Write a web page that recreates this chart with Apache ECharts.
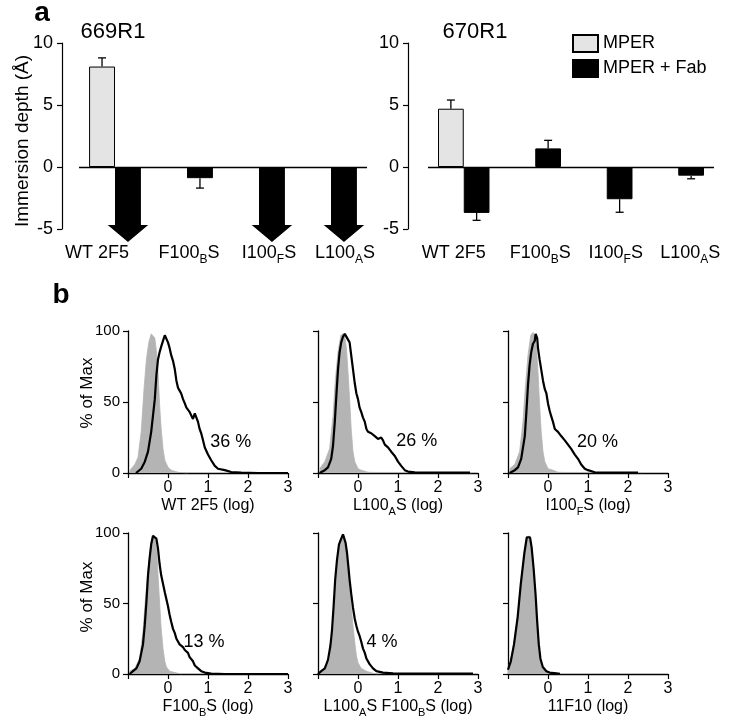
<!DOCTYPE html>
<html>
<head>
<meta charset="utf-8">
<script src="https://cdn.jsdelivr.net/npm/echarts@6/dist/echarts.min.js"></script>
<style>
html,body{margin:0;padding:0;background:#fff;}
#chart{width:729px;height:728px;}
</style>
</head>
<body>
<div id="chart"></div>
<script>
// ---------------- DATA ----------------
// Part a: immersion depth (Å)
const catLabels = ['WT 2F5', 'F100{s|B}S', 'I100{s|F}S', 'L100{s|A}S'];
const depthTicks = [-5, 0, 5, 10];
const mper669 = [8.1, null, null, null];
const mper669Err = [0.7, null, null, null];
const fab669 = [null, -0.9, null, null];
const fab669Err = [null, 0.8, null, null];
const fab669OffScale = [true, false, true, true];
const mper670 = [4.7, null, null, null];
const mper670Err = [0.7, null, null, null];
const fab670 = [-3.7, 1.5, -2.6, -0.7];
const fab670Err = [0.6, 0.65, 1.05, 0.25];
const fab670OffScale = [false, false, false, false];

// Part b: flow cytometry histograms ([log fluorescence, % of Max])
const panelNames = ['WT 2F5 (log)', 'L100{s|A}S (log)', 'I100{s|F}S (log)',
                    'F100{s|B}S (log)', 'L100{s|A}S F100{s|B}S (log)', '11F10 (log)'];
const pctLabels = ['36 %', '26 %', '20 %', '13 %', '4 %', ''];

const wtGrey = [[-0.96,1],[-0.92,3],[-0.83,6],[-0.75,11],[-0.67,29],[-0.6,59],[-0.54,80],[-0.48,92],[-0.42,98],[-0.375,99],[-0.33,95],[-0.29,86],[-0.25,71],[-0.21,48],[-0.17,31],[-0.125,17],[-0.08,9],[0,4],[0.08,2],[0.25,0.5],[0.5,0]];
const wtBlack = [[-0.8,0],[-0.67,3],[-0.58,8],[-0.5,15],[-0.42,29],[-0.33,52],[-0.29,69],[-0.25,80],[-0.21,85],[-0.17,89],[-0.125,93],[-0.08,97],[-0.04,96],[0,92],[0.04,88],[0.08,83],[0.125,79],[0.17,73],[0.21,65],[0.25,60],[0.29,58],[0.33,56],[0.375,52],[0.42,49],[0.46,46],[0.5,45],[0.54,43],[0.58,42],[0.625,38],[0.67,42],[0.71,42],[0.75,36],[0.79,31],[0.83,28],[0.875,23],[0.92,18],[1.0,13],[1.08,9],[1.17,5],[1.25,3],[1.42,2],[1.58,0.7],[1.83,0.2],[2.25,0],[3,0]];

const l100Grey = [[-0.96,3],[-0.83,8],[-0.71,17],[-0.625,40],[-0.57,64],[-0.5,85],[-0.43,97],[-0.375,98],[-0.33,96],[-0.29,88],[-0.25,71],[-0.21,52],[-0.17,31],[-0.125,15],[-0.08,8],[0,3],[0.08,2],[0.25,0.5],[0.5,0.4],[2.8,0.4],[2.85,0]];
const l100Black = [[-0.96,0],[-0.83,2],[-0.75,4],[-0.67,10],[-0.625,19],[-0.58,36],[-0.54,55],[-0.5,73],[-0.46,85],[-0.42,92],[-0.375,96],[-0.33,98],[-0.29,98],[-0.27,95],[-0.23,96],[-0.21,92],[-0.17,83],[-0.125,73],[-0.08,63],[-0.04,56],[0,52],[0.04,46],[0.08,43],[0.125,39],[0.17,36],[0.21,31],[0.25,29],[0.29,28],[0.33,28],[0.375,27],[0.42,26],[0.46,25],[0.5,24],[0.58,25],[0.625,23],[0.67,20],[0.75,18],[0.83,15],[0.92,12],[1.0,8],[1.08,5],[1.17,2],[1.25,1],[1.42,0.5],[1.83,0.3],[2.8,0.3]];

const i100Grey = [[-0.96,3],[-0.83,6],[-0.71,15],[-0.625,36],[-0.57,59],[-0.5,83],[-0.43,97],[-0.375,99],[-0.33,97],[-0.29,89],[-0.25,71],[-0.21,48],[-0.17,29],[-0.125,15],[-0.08,8],[0,3],[0.125,2],[0.25,0.5],[0.5,0.4],[2.3,0.4],[2.35,0]];
const i100Black = [[-0.96,0],[-0.83,2],[-0.75,4],[-0.67,10],[-0.58,26],[-0.54,43],[-0.5,62],[-0.46,76],[-0.42,85],[-0.375,91],[-0.33,93],[-0.31,98],[-0.29,99],[-0.27,95],[-0.25,88],[-0.21,80],[-0.17,73],[-0.125,65],[-0.08,59],[-0.04,56],[0,49],[0.04,44],[0.08,40],[0.125,36],[0.17,31],[0.21,30],[0.25,29],[0.33,26],[0.42,23],[0.5,20],[0.58,17],[0.67,13],[0.75,10],[0.83,6],[0.92,3],[1.0,2],[1.17,0.5],[1.42,0.3],[2.25,0.3]];

const f100Grey = [[-0.96,2],[-0.83,4],[-0.71,11],[-0.625,30],[-0.57,51],[-0.5,73],[-0.43,92],[-0.375,98],[-0.32,96],[-0.28,87],[-0.25,70],[-0.21,51],[-0.17,32],[-0.125,18],[-0.08,9],[-0.04,5],[0.04,2],[0.17,1],[0.33,0]];
const f100Black = [[-0.96,0],[-0.875,2],[-0.79,4],[-0.71,9],[-0.625,21],[-0.58,35],[-0.54,51],[-0.5,70],[-0.46,82],[-0.42,92],[-0.375,98],[-0.33,98],[-0.29,96],[-0.25,89],[-0.21,78],[-0.17,70],[-0.125,64],[-0.08,58],[-0.04,53],[0,48],[0.04,42],[0.08,37],[0.125,32],[0.17,29],[0.21,25],[0.25,23],[0.29,21],[0.33,20],[0.375,19],[0.42,17],[0.46,16],[0.5,15],[0.54,12],[0.58,11],[0.625,9],[0.67,6],[0.75,4],[0.83,2],[0.92,1],[1.08,0.3],[1.42,0],[3,0]];

const dblGrey = [[-0.96,1],[-0.83,3],[-0.71,10],[-0.625,31],[-0.57,57],[-0.5,81],[-0.44,94],[-0.39,99],[-0.35,96],[-0.31,91],[-0.25,76],[-0.21,62],[-0.17,48],[-0.125,34],[-0.08,22],[-0.04,13],[0,8],[0.08,4],[0.21,2],[0.375,0.5],[0.5,0]];
const dblBlack = [[-1.0,0],[-0.92,2],[-0.83,4],[-0.75,10],[-0.69,20],[-0.65,31],[-0.61,48],[-0.57,67],[-0.525,81],[-0.475,92],[-0.42,96],[-0.375,99],[-0.34,98],[-0.31,93],[-0.275,86],[-0.24,76],[-0.21,67],[-0.17,57],[-0.125,47],[-0.08,39],[-0.04,34],[0,30],[0.04,27],[0.08,23],[0.125,18],[0.17,15],[0.21,11],[0.29,7],[0.375,4],[0.46,2],[0.625,1],[0.875,0.5],[1.46,0.3],[2.875,0.3]];

const ctrlGrey = [[-1.0,4],[-0.93,10],[-0.85,22],[-0.76,41],[-0.68,65],[-0.59,86],[-0.53,96],[-0.48,98],[-0.44,96],[-0.40,88],[-0.36,74],[-0.31,55],[-0.27,36],[-0.23,20],[-0.19,10],[-0.13,5],[-0.04,2],[0.04,1],[0.21,0.5],[0.3,0]];
const ctrlBlack = [[-1.0,3],[-0.93,9],[-0.85,21],[-0.76,40],[-0.68,64],[-0.59,86],[-0.53,97],[-0.49,98],[-0.45,97],[-0.41,90],[-0.36,75],[-0.31,56],[-0.27,37],[-0.23,21],[-0.19,11],[-0.13,5],[-0.04,2],[0.04,1],[0.21,0.5],[0.3,0.2]];

const logTicks = [0, 1, 2, 3];
const pctTicks = [0, 50, 100];

// ---------------- LAYOUT / STYLE ----------------
const FONT = '"Liberation Sans", Arial, Helvetica, sans-serif';
const BAR_FRAC = 0.36;
const DEPTH_MIN = -5, DEPTH_MAX = 10;
const GREY_BAR = '#e4e4e4';
const GREY_HIST = '#b4b4b4';
// horizontal shift (px) of each category label relative to its category centre, per chart
const catLabelShift = [[-18, 2, 10, 14], [-10, 5, 9, 12]];

const greyCurves = [wtGrey, l100Grey, i100Grey, f100Grey, dblGrey, ctrlGrey];
const blackCurves = [wtBlack, l100Black, i100Black, f100Black, dblBlack, ctrlBlack];
const pctLabelAt = [[1.57, 21.7], [1.47, 22.4], [1.24, 22], [0.9, 22.7], [0.6, 22.6], null];

const grids = [
  {left: 79, top: 43, width: 288, height: 186},
  {left: 428, top: 43, width: 286, height: 186},
  {left: 128, top: 331, width: 160, height: 142},
  {left: 318, top: 331, width: 160, height: 142},
  {left: 508, top: 331, width: 160, height: 142},
  {left: 128, top: 533, width: 160, height: 141},
  {left: 318, top: 533, width: 160, height: 141},
  {left: 508, top: 533, width: 160, height: 141}
].map(g => Object.assign({outerBoundsMode: 'none', containLabel: false}, g));

const subRich = (fs) => ({ s: {fontSize: fs, lineHeight: fs, verticalAlign: 'bottom', fontFamily: FONT, color: '#000'} });

const xAxes = [];
const yAxes = [];
const series = [];

// Part a axes
[0, 1].forEach(k => {
  xAxes.push({
    type: 'category', gridIndex: k, position: 'bottom',
    data: catLabels.map((c, i) => {
      const d = catLabelShift[k][i];
      return {value: c, textStyle: {padding: d >= 0 ? [0, 0, 0, 2 * d] : [0, -2 * d, 0, 0]}};
    }),
    axisLine: {show: false, onZero: false},
    axisTick: {show: false},
    axisLabel: {fontSize: 18, lineHeight: 26, margin: 11, color: '#000', fontFamily: FONT, interval: 0,
                rich: subRich(12)},
    splitLine: {show: false}
  });
  yAxes.push({
    type: 'value', gridIndex: k, min: DEPTH_MIN, max: DEPTH_MAX, interval: 5,
    offset: k === 0 ? 17 : 20,
    axisLine: {show: true, lineStyle: {color: '#000', width: 1.2}},
    axisTick: {show: true, inside: false, length: 5, lineStyle: {color: '#000', width: 1.2}},
    axisLabel: {fontSize: 18, margin: 9, color: '#000', fontFamily: FONT},
    splitLine: {show: false}
  });
});

function errItems(vals, errs, side) {
  const out = [];
  vals.forEach((v, i) => { if (v != null && errs[i] != null) out.push([i, v, errs[i], side]); });
  return out;
}
function renderErr(params, api) {
  const i = api.value(0), v = api.value(1), e = api.value(2), side = api.value(3);
  const bw = api.size([1, 0])[0] * BAR_FRAC;
  const dx = side === 0 ? -bw / 2 : bw / 2;
  const end = v + (v >= 0 ? e : -e);
  const p0 = api.coord([i, v]);
  const p1 = api.coord([i, end]);
  const x = p0[0] + dx;
  const cap = 4;
  return {type: 'group', children: [
    {type: 'line', shape: {x1: x, y1: p0[1], x2: x, y2: p1[1]}, style: {stroke: '#000', lineWidth: 1.3}},
    {type: 'line', shape: {x1: x - cap, y1: p1[1], x2: x + cap, y2: p1[1]}, style: {stroke: '#000', lineWidth: 1.3}}
  ]};
}
function renderArrow(params, api) {
  const i = api.value(0);
  const bw = api.size([1, 0])[0] * BAR_FRAC;
  const c0 = api.coord([i, 0]);
  const cMin = api.coord([i, DEPTH_MIN]);
  const xL = c0[0], xR = c0[0] + bw, xc = c0[0] + bw / 2;
  const yb = cMin[1] - 4;
  const hh = bw * 0.78, headH = 17;
  return {type: 'polygon', shape: {points: [[xL, c0[1]], [xR, c0[1]], [xR, yb], [xc + hh, yb], [xc, yb + headH], [xc - hh, yb], [xL, yb]]},
          style: {fill: '#000'}};
}

const aSets = [
  {mper: mper669, mperErr: mper669Err, fab: fab669, fabErr: fab669Err, off: fab669OffScale},
  {mper: mper670, mperErr: mper670Err, fab: fab670, fabErr: fab670Err, off: fab670OffScale}
];
aSets.forEach((s, k) => {
  series.push({
    type: 'bar', name: 'MPER', xAxisIndex: k, yAxisIndex: k, data: s.mper,
    barWidth: (BAR_FRAC * 100) + '%', barGap: '0%',
    itemStyle: {color: GREY_BAR, borderColor: '#000', borderWidth: 1}, z: 2
  });
  series.push({
    type: 'bar', name: 'MPER + Fab', xAxisIndex: k, yAxisIndex: k,
    data: s.fab.map((v, i) => s.off[i] ? null : v),
    barWidth: (BAR_FRAC * 100) + '%', barGap: '0%',
    itemStyle: {color: '#000', borderColor: '#000', borderWidth: 1}, z: 2,
    markLine: {silent: true, symbol: ['none', 'none'], label: {show: false},
               lineStyle: {color: '#000', width: 1.3, type: 'solid'}, data: [{yAxis: 0}], animation: false}
  });
  series.push({
    type: 'custom', xAxisIndex: k, yAxisIndex: k, renderItem: renderErr, clip: false, silent: true, z: 3,
    encode: {x: 0, y: 1},
    data: errItems(s.mper, s.mperErr, 0).concat(errItems(s.fab, s.fabErr, 1))
  });
  const arrows = [];
  s.off.forEach((o, i) => { if (o) arrows.push([i, DEPTH_MIN]); });
  series.push({
    type: 'custom', xAxisIndex: k, yAxisIndex: k, renderItem: renderArrow, clip: false, silent: true, z: 3,
    encode: {x: 0, y: 1}, data: arrows
  });
});

// Part b axes
for (let p = 0; p < 6; p++) {
  const g = p + 2;
  const firstCol = p % 3 === 0;
  xAxes.push({
    type: 'value', gridIndex: g, min: -1, max: 3, interval: 1,
    axisLine: {show: true, onZero: false, lineStyle: {color: '#000', width: 1.3}},
    axisTick: {show: true, inside: false, length: 5, lineStyle: {color: '#000', width: 1.2}},
    axisLabel: {fontSize: 16, margin: 7, color: '#000', fontFamily: FONT,
                formatter: v => (logTicks.indexOf(v) >= 0 ? String(v) : '')},
    splitLine: {show: false},
    name: panelNames[p], nameLocation: 'middle', nameGap: 22, nameMoveOverlap: false,
    nameTextStyle: {fontSize: 16, lineHeight: 22, color: '#000', fontFamily: FONT, rich: subRich(11)}
  });
  yAxes.push({
    type: 'value', gridIndex: g, min: 0, max: 100, interval: 50,
    axisLine: {show: true, onZero: false, lineStyle: {color: '#000', width: 1.3}},
    axisTick: {show: true, inside: false, length: 5, lineStyle: {color: '#000', width: 1.2}},
    axisLabel: {show: firstCol, fontSize: 15, margin: 8, color: '#000', fontFamily: FONT,
                formatter: v => (pctTicks.indexOf(v) >= 0 ? String(v) : '')},
    splitLine: {show: false}
  });
  series.push({
    type: 'line', xAxisIndex: g, yAxisIndex: g, data: greyCurves[p],
    symbol: 'none', showSymbol: false, smooth: false, silent: true, z: 1,
    lineStyle: {color: GREY_HIST, width: 0.8},
    areaStyle: {color: GREY_HIST, opacity: 1, origin: 'start'}
  });
  const blk = {
    type: 'line', xAxisIndex: g, yAxisIndex: g, data: blackCurves[p],
    symbol: 'none', showSymbol: false, smooth: false, silent: true, z: 3,
    lineStyle: {color: '#000', width: 2.2}
  };
  if (pctLabelAt[p]) {
    blk.markPoint = {
      silent: true, symbol: 'circle', symbolSize: 0, animation: false,
      label: {show: true, position: 'inside', formatter: '{b}', fontSize: 18, color: '#000', fontFamily: FONT},
      itemStyle: {color: 'transparent'},
      data: [{name: pctLabels[p], coord: pctLabelAt[p]}]
    };
  }
  series.push(blk);
}

const txt = (x, y, text, font, rot) => ({
  type: 'text', x: x, y: y, rotation: rot || 0, silent: true,
  style: {text: text, fill: '#000', font: font, textAlign: 'center', textVerticalAlign: 'middle'}
});

const option = {
  animation: false,
  backgroundColor: '#fff',
  textStyle: {fontFamily: FONT, color: '#000'},
  grid: grids,
  xAxis: xAxes,
  yAxis: yAxes,
  legend: {
    data: ['MPER', 'MPER + Fab'], orient: 'vertical', left: 572, top: 34, padding: 0,
    itemWidth: 25, itemHeight: 17, itemGap: 6, icon: 'rect', selectedMode: false,
    textStyle: {fontSize: 18, lineHeight: 17, color: '#000', fontFamily: FONT}
  },
  graphic: [
    txt(42, 13, 'a', 'bold 28px ' + FONT),
    txt(61, 295, 'b', 'bold 28px ' + FONT),
    txt(113, 32, '669R1', '22px ' + FONT),
    txt(475, 32, '670R1', '22px ' + FONT),
    txt(23, 141, 'Immersion depth (Å)', '19px ' + FONT, Math.PI / 2),
    txt(87, 393, '% of Max', '17px ' + FONT, Math.PI / 2),
    txt(87, 597, '% of Max', '17px ' + FONT, Math.PI / 2)
  ],
  series: series
};

const chart = echarts.init(document.getElementById('chart'), null, {renderer: 'canvas'});
chart.setOption(option);
</script>
</body>
</html>
